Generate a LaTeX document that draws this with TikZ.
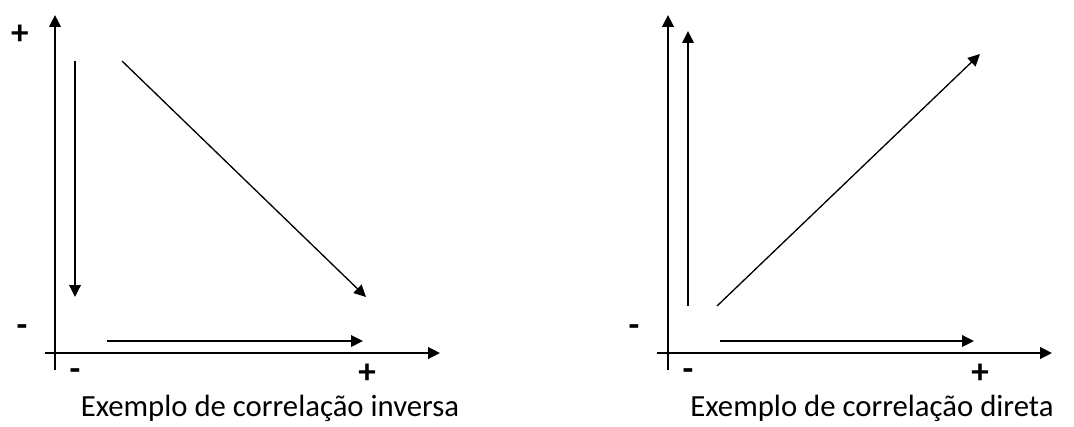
\documentclass[tikz,border=0pt]{standalone}
\usepackage{fontspec}
\setmainfont{Carlito}
\usetikzlibrary{arrows.meta}

\tikzset{
  axis/.style={line width=1.2pt, -{Triangle[length=6.8pt,width=6.6pt]}},
  trend/.style={line width=0.75pt, -{Triangle[length=6.8pt,width=6.6pt]}},
  sign/.style={font=\fontsize{20}{22}\selectfont\bfseries, anchor=base, inner sep=0pt},
  caption/.style={font=\fontsize{17.5}{20}\selectfont, anchor=base, inner sep=0pt}
}

\begin{document}
\begin{tikzpicture}[x=0.02cm, y=-0.02cm]
  \useasboundingbox (0,0) rectangle (1074,426);

  % ---- Left panel: inverse correlation ----
  \draw[axis] (55,370) -- (55,15);
  \draw[axis] (45,353) -- (440,353);
  \draw[trend] (75,61) -- (75,297);
  \draw[trend] (122,61) -- (366,297);
  \draw[trend] (107,341) -- (363,341);
  \node[sign] (lplus) at (20,44.5) {+};
  \node[sign] (lminus) at (22,336.5) {-};
  \node[sign] (lxminus) at (75,380.5) {-};
  \node[sign] (lxplus) at (367,383.5) {+};
  \node[caption] (lcap) at (270,416) {Exemplo de correlação inversa};

  % ---- Right panel: direct correlation ----
  \draw[axis] (668,370) -- (668,15);
  \draw[axis] (657,353) -- (1052,353);
  \draw[trend] (688,306) -- (688,31);
  \draw[trend] (717,306) -- (980,54);
  \draw[trend] (720,341) -- (974,341);
  \node[sign] (rminus) at (634,336.5) {-};
  \node[sign] (rxminus) at (688,380.5) {-};
  \node[sign] (rxplus) at (980,383.5) {+};
  \node[caption] (rcap) at (872,416) {Exemplo de correlação direta};
\end{tikzpicture}
\end{document}
